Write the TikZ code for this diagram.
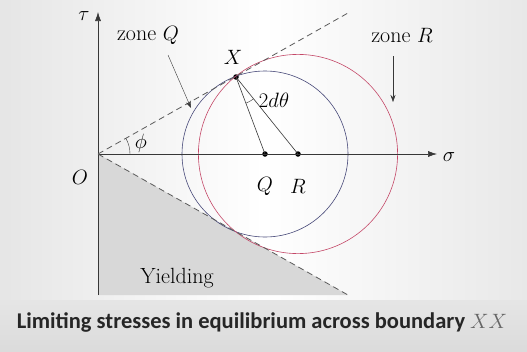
\documentclass[tikz,border=0pt]{standalone}
\usepackage{amsmath}
\usepackage{fontspec}
\newfontfamily\capfont{Carlito}
\usepackage{tikz}
\usetikzlibrary{
  arrows.meta,
  positioning,
  calc
}
\definecolor{axisgray}{RGB}{55,55,55}
\definecolor{dashgray}{RGB}{90,90,90}
\definecolor{circblue}{RGB}{70,72,120}
\definecolor{circred}{RGB}{196,72,104}
\definecolor{yieldgray}{RGB}{216,216,216}

\begin{document}
\begin{tikzpicture}[x=1pt, y=-1pt,
  lab/.style={font=\fontsize{22}{24}\selectfont, inner sep=1pt},
  dot/.style={circle, fill=black, inner sep=0pt, minimum size=5.5pt},
  pointer/.style={-{Stealth[length=7pt,width=5pt]}, thin, axisgray}]
  \useasboundingbox (0,0) rectangle (527,351);

  % Background
  \shade[left color=gray!20, right color=gray!18, middle color=white]
    (0,0) rectangle (527,300);
  \shade[top color=gray!20, bottom color=gray!28] (0,300) rectangle (527,351);

  % Key points
  \coordinate (O) at (98,154);
  \coordinate (U) at (348,13);
  \coordinate (L) at (348,295);
  \coordinate (S) at (437,154);
  \coordinate (T) at (98,12);
  \coordinate (B) at (98,295);

  % Yielding region
  \fill[yieldgray] (O) -- (L) -- (B) -- cycle;

  % Circles
  \node[dot] (Q) at (265,154) {};
  \node[dot] (R) at (298,154) {};
  \node[dot] (X) at (236,77) {};
  \draw[circblue, semithick] (Q.center) circle (83);
  \draw[circred, semithick] (R.center) circle (99.6);

  % Axes
  \draw[axisgray, semithick, -{Latex[length=9pt,width=6pt]}] (B) -- (T);
  \draw[axisgray, semithick, -{Latex[length=9pt,width=6pt]}] (O) -- (S);

  % Failure lines
  \draw[dashgray, thick, dash pattern=on 6pt off 4pt] (O) -- (U);
  \draw[dashgray, thick, dash pattern=on 6pt off 4pt] (O) -- (L);

  % Radii and angles
  \draw[axisgray, semithick] (X.center) -- (Q.center);
  \draw[axisgray, semithick] (X.center) -- (R.center);
  \draw[axisgray] (X.center) ++(51.2:28) arc[start angle=51.2, end angle=69.4, radius=28];
  \draw[axisgray] (O) ++(0:32) arc[start angle=0, end angle=-29.4, radius=32];

  % Labels
  \node[lab] (tau) at (84,16) {$\tau$};
  \node[lab] (sigma) at (449,157) {$\sigma$};
  \node[lab] (lO) at (80,177) {$O$};
  \node[lab] (lQ) at (265,186) {$Q$};
  \node[lab] (lR) at (298,186) {$R$};
  \node[lab] (lX) at (233,57) {$X$};
  \node[lab] (lphi) at (141,143) {$\phi$};
  \node[lab] (ltheta) at (274,100) {$2d\theta$};
  \node[lab] (yield) at (177,278) {Yielding};

  % Zone pointers
  \node[lab] (zoneQ) at (148,35) {zone $Q$};
  \coordinate (tailQ) at (168,55);
  \coordinate (tipQ) at (191,108);
  \draw[pointer] (tailQ) -- (tipQ);
  \node[lab] (zoneR) at (402,35) {zone $R$};
  \coordinate (tailR) at (393,56);
  \coordinate (tipR) at (393,102);
  \draw[pointer] (tailR) -- (tipR);

  % Caption
  \node[font=\capfont\bfseries\fontsize{22.5}{24}\selectfont, text=black!85]
    (cap) at (262,322)
    {Limiting stresses in equilibrium across boundary \textnormal{\color{black!60}$XX$}};
\end{tikzpicture}
\end{document}
